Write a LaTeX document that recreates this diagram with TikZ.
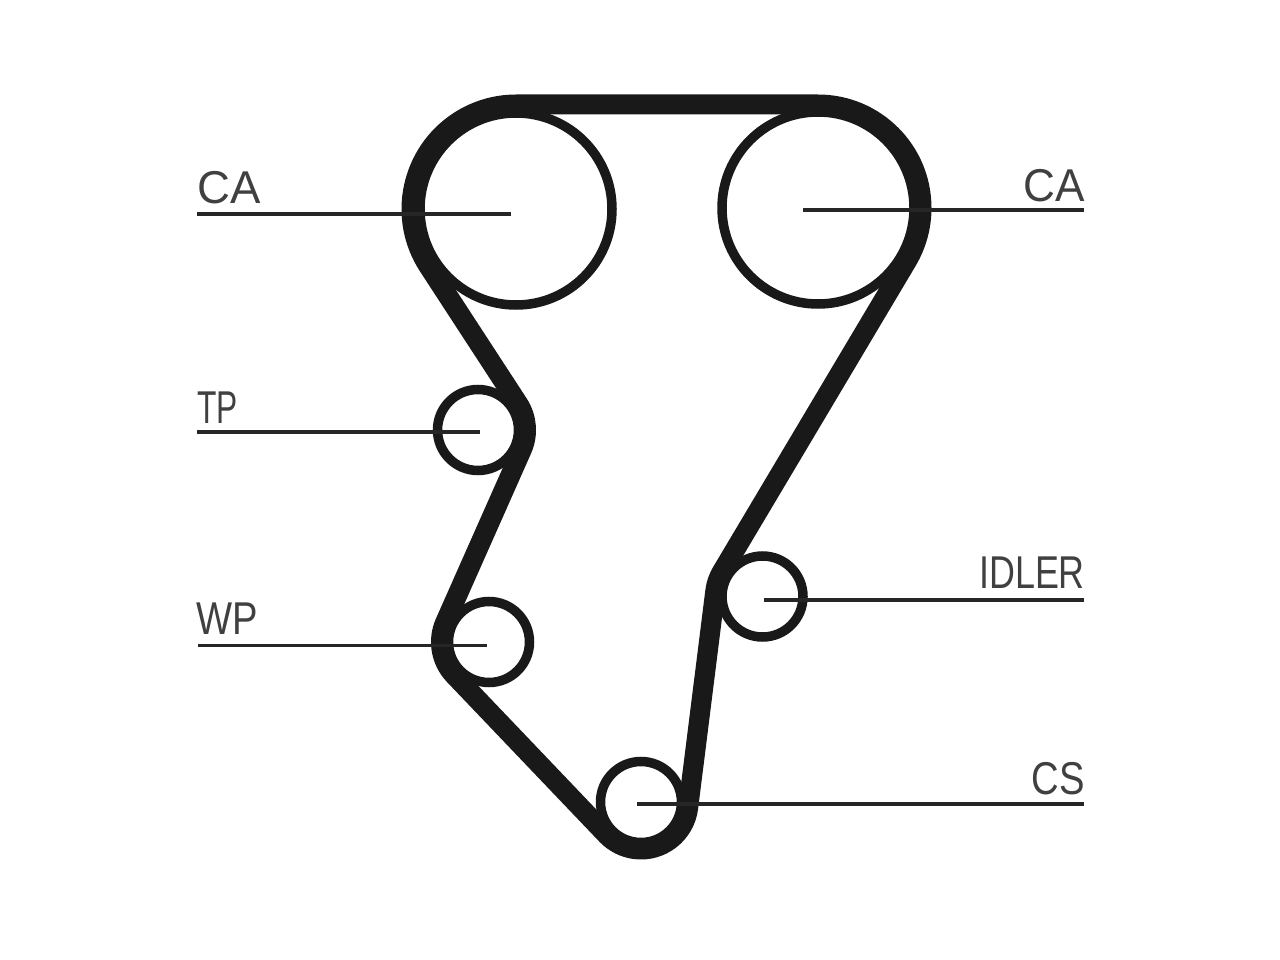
\documentclass[tikz,border=0pt]{standalone}
\usepackage{fontspec}
\setmainfont{Liberation Sans}
\usetikzlibrary{calc}

\begin{document}
\begin{tikzpicture}[
    x=1pt, y=-1pt,
    % Styles
    big-pulley/.style={draw=black!90, circle, line width=9.5pt, minimum size=192pt, inner sep=0pt},
    small-pulley/.style={draw=black!90, circle, line width=9.5pt, minimum size=81pt, inner sep=0pt},
    belt/.style={draw=black!90, line width=20pt, line join=round},
    leader/.style={draw=black!85, line width=3.5pt},
    tag/.style={font=\fontsize{46}{46}\selectfont, text=black!75, inner sep=0pt},
]
\useasboundingbox (0,0) rectangle (1280,960);

% Pulleys
\node[big-pulley] (ca-left) at (516,209) {};
\node[big-pulley] (ca-right) at (818,208) {};
\node[small-pulley] (tp) at (478,430) {};
\node[small-pulley] (wp) at (489,642) {};
\node[small-pulley] (idler) at (762.5,596.5) {};
\node[small-pulley] (cs) at (641,802) {};

% Belt (clockwise from the top)
\draw[belt] ($(ca-left)+(270:104.5)$) -- ($(ca-right)+(270:103.5)$)
    arc[start angle=-90, end angle=30.76, radius=103.5]
    -- ($(idler)+(210.76:47.5)$)
    arc[start angle=210.76, end angle=187.15, radius=47.5]
    -- ($(cs)+(7.15:47.5)$)
    arc[start angle=7.15, end angle=136.34, radius=47.5]
    -- ($(wp)+(136.34:48)$)
    arc[start angle=136.34, end angle=203.93, radius=48]
    -- ($(tp)+(23.93:48)$)
    arc[start angle=23.93, end angle=-33.1, radius=48]
    -- ($(ca-left)+(146.9:104.5)$)
    arc[start angle=146.9, end angle=270, radius=104.5]
    -- cycle;

% Labels
\node[tag, anchor=base west, xscale=0.99] (lbl-ca-left) at (197,204) {CA};
\node[tag, anchor=base east, xscale=0.96] (lbl-ca-right) at (1085,202) {CA};
\node[tag, anchor=base west, xscale=0.69] (lbl-tp) at (197,423) {TP};
\node[tag, anchor=base west, xscale=0.83] (lbl-wp) at (196,634) {WP};
\node[tag, anchor=base east, xscale=0.78] (lbl-idler) at (1085,588) {IDLER};
\node[tag, anchor=base east, xscale=0.83] (lbl-cs) at (1085,794) {CS};

% Leaders
\coordinate (end-ca-left) at (197,214);
\coordinate (end-ca-right) at (1084,210);
\coordinate (end-tp) at (197,432);
\coordinate (end-wp) at (198,645.5);
\coordinate (end-idler) at (1084,600);
\coordinate (end-cs) at (1084,804);
\draw[leader] (end-ca-left) -- (511,214);
\draw[leader] (end-ca-right) -- (803,210);
\draw[leader] (end-tp) -- (480,432);
\draw[leader] (end-wp) -- (487,645.5);
\draw[leader] (end-idler) -- (764,600);
\draw[leader] (end-cs) -- (637,804);

\end{tikzpicture}
\end{document}
